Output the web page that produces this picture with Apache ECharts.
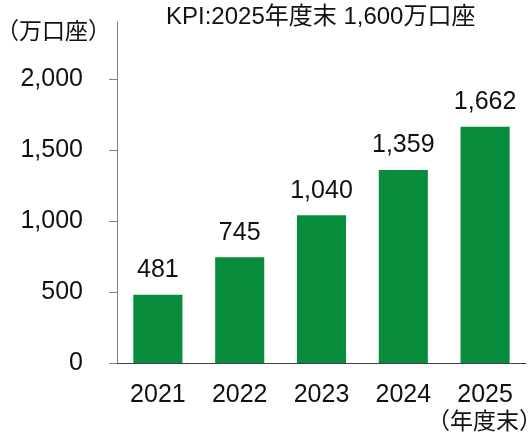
<!DOCTYPE html>
<html>
<head>
<meta charset="utf-8">
<script src="https://cdn.jsdelivr.net/npm/echarts@6/dist/echarts.min.js"></script>
<style>
  html, body { margin: 0; padding: 0; background: #fff; }
  #chart { width: 531px; height: 436px; }
</style>
</head>
<body>
<div id="chart"></div>
<script>
// データ
const years = ['2021', '2022', '2023', '2024', '2025']
const accounts = [481, 745, 1040, 1359, 1662]
const yTicks = [0, 500, 1000, 1500, 2000]

const font = '"Liberation Sans", Arial, "Noto Sans CJK JP", sans-serif'
const txt = '#111'

const chart = echarts.init(document.getElementById('chart'))
chart.setOption({
  animation: false,
  textStyle: { fontFamily: font },
  title: {
    text: 'KPI:2025年度末 1,600万口座',
    left: 166,
    top: 5,
    padding: 0,
    textStyle: { fontSize: 24, fontWeight: 'normal', color: txt, fontFamily: font }
  },
  graphic: [
    {
      type: 'text',
      left: -4,
      top: 21,
      style: { text: '（万口座）', fontSize: 23, fill: txt, fontFamily: font }
    },
    {
      type: 'text',
      right: -11,
      top: 411,
      style: { text: '（年度末）', fontSize: 23, fill: txt, fontFamily: font }
    }
  ],
  grid: { left: 117, right: 5, top: 22, bottom: 73 },
  xAxis: {
    type: 'category',
    data: years,
    axisLine: { lineStyle: { color: '#404040', width: 1 } },
    axisTick: { show: false },
    axisLabel: { color: txt, fontSize: 25, margin: 20, fontFamily: font }
  },
  yAxis: {
    type: 'value',
    min: 0,
    max: 2400,
    interval: 500,
    splitLine: { show: false },
    axisLine: { show: true, lineStyle: { color: '#808080', width: 1 } },
    axisTick: {
      show: true,
      length: 8,
      customValues: yTicks,
      lineStyle: { color: '#808080' }
    },
    axisLabel: {
      customValues: yTicks,
      color: txt,
      fontSize: 25,
      margin: 34,
      fontFamily: font,
      formatter: v => v.toLocaleString('en-US')
    }
  },
  series: [{
    type: 'bar',
    data: accounts,
    barWidth: '60%',
    itemStyle: { color: '#078c3b' },
    label: {
      show: true,
      position: 'top',
      distance: 12,
      color: txt,
      fontSize: 25,
      fontFamily: font,
      formatter: p => p.value.toLocaleString('en-US')
    }
  }]
})
</script>
</body>
</html>
